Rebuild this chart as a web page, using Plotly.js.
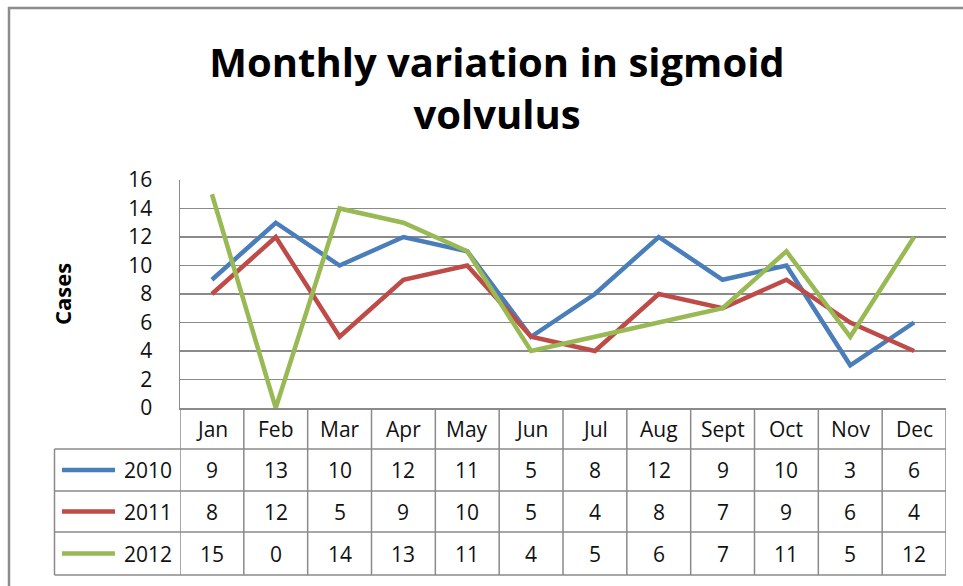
<!DOCTYPE html>
<html>
<head>
<meta charset="utf-8">
<script src="https://cdn.plot.ly/plotly-3.0.1.min.js"></script>
<style>html,body{margin:0;padding:0;background:#fff;}#chart{width:963px;height:586px;}</style>
</head>
<body>
<div id="chart"></div>
<script>
var months = ["Jan","Feb","Mar","Apr","May","Jun","Jul","Aug","Sept","Oct","Nov","Dec"];
var seriesNames = ["2010","2011","2012"];
var cases2010 = [9,13,10,12,11,5,8,12,9,10,3,6];
var cases2011 = [8,12,5,9,10,5,4,8,7,9,6,4];
var cases2012 = [15,0,14,13,11,4,5,6,7,11,5,12];
var yTicks = [0,2,4,6,8,10,12,14,16];

var colors = ["#4A7EBB","#BE4B48","#98B954"];
var allSeries = [cases2010, cases2011, cases2012];

var W = 963, H = 586;
var L = 180, R = 946, T = 180, B = 408;
function px(X){ return (X - L) / (R - L); }
function py(Y){ return (B - Y) / (B - T); }

var gridCol = "#8a8a8a";
var fontFam = "'Open Sans', 'DejaVu Sans', sans-serif";

var traces = allSeries.map(function(vals, k){
  return {
    type: "scatter", mode: "lines",
    x: months, y: vals, name: seriesNames[k],
    line: {color: colors[k], width: 4.5, shape: "linear"},
    hoverinfo: "x+y+name", showlegend: false
  };
});

var shapes = [];
var annotations = [];

// outer chart border (top and left)
shapes.push({type:"path", xref:"paper", yref:"paper",
  path: "M " + px(9) + "," + py(600) + " L " + px(9) + "," + py(8) + " L " + px(970) + "," + py(8),
  line:{color:"#8c8c8c", width:2.5}, layer:"below"});

// table rows (Y pixel boundaries)
var rowBottom = 575;
var rowCenters = [428.5, 470, 511.5, 553.5];

// vertical table lines at category boundaries
for (var i = 0; i <= months.length; i++) {
  shapes.push({type:"line", xref:"x", yref:"paper",
    x0: i - 0.5, x1: i - 0.5, y0: py(408), y1: py(rowBottom),
    line:{color:gridCol, width:1.5}});
}
// left column vertical line
shapes.push({type:"line", xref:"paper", yref:"paper",
  x0: px(54.5), x1: px(54.5), y0: py(449), y1: py(rowBottom),
  line:{color:gridCol, width:1.5}});
// horizontal table lines
[449, 491, 532, 575].forEach(function(Y){
  shapes.push({type:"line", xref:"paper", yref:"paper",
    x0: px(54.5), x1: 1, y0: py(Y), y1: py(Y),
    line:{color:gridCol, width:1.5}});
});

// header row: months
months.forEach(function(m){
  annotations.push({xref:"x", yref:"paper", x: m, y: py(rowCenters[0]),
    text: m, showarrow:false, xanchor:"center", yanchor:"middle",
    font:{family:fontFam, size:21, color:"#111"}});
});

// series rows
allSeries.forEach(function(vals, k){
  var yc = py(rowCenters[k+1]);
  shapes.push({type:"line", xref:"paper", yref:"paper",
    x0: px(62), x1: px(115), y0: yc, y1: yc,
    line:{color:colors[k], width:4.5}});
  annotations.push({xref:"paper", yref:"paper", x: px(174), y: yc,
    text: seriesNames[k], showarrow:false, xanchor:"right", yanchor:"middle",
    font:{family:fontFam, size:21, color:"#111"}});
  vals.forEach(function(v, i){
    annotations.push({xref:"x", yref:"paper", x: months[i], y: yc,
      text: String(v), showarrow:false, xanchor:"center", yanchor:"middle",
      font:{family:fontFam, size:21, color:"#111"}});
  });
});

// y axis title
annotations.push({xref:"paper", yref:"paper", x: px(62), y: py(294),
  text: "<b>Cases</b>", showarrow:false, textangle:-90,
  xanchor:"center", yanchor:"middle",
  font:{family:fontFam, size:22, color:"#000"}});

var layout = {
  width: W, height: H,
  margin: {l: L, r: W - R, t: T, b: H - B, pad: 0},
  paper_bgcolor: "#fff", plot_bgcolor: "#fff",
  title: {
    text: "<b>Monthly variation in sigmoid<br>volvulus</b>",
    x: 497 / W, xanchor: "center", xref: "container",
    y: 1 - 77 / H, yanchor: "middle", yref: "container",
    font: {family: fontFam, size: 40, color: "#000"}
  },
  xaxis: {
    type: "category", categoryarray: months, range: [-0.5, months.length - 0.5],
    showticklabels: false, showgrid: false, zeroline: false,
    showline: true, linecolor: gridCol, linewidth: 1.5, ticks: "", fixedrange: true
  },
  yaxis: {
    range: [0, 16], tickvals: yTicks, ticktext: yTicks.map(String),
    showgrid: true, gridcolor: gridCol, gridwidth: 1.5, zeroline: false,
    showline: true, linecolor: gridCol, linewidth: 1.5,
    ticks: "outside", ticklen: 22, tickcolor: "rgba(0,0,0,0)",
    tickfont: {family: fontFam, size: 21, color: "#111"}, fixedrange: true
  },
  shapes: shapes,
  annotations: annotations,
  showlegend: false
};

Plotly.newPlot("chart", traces, layout, {displayModeBar: false, staticPlot: true});
</script>
</body>
</html>
